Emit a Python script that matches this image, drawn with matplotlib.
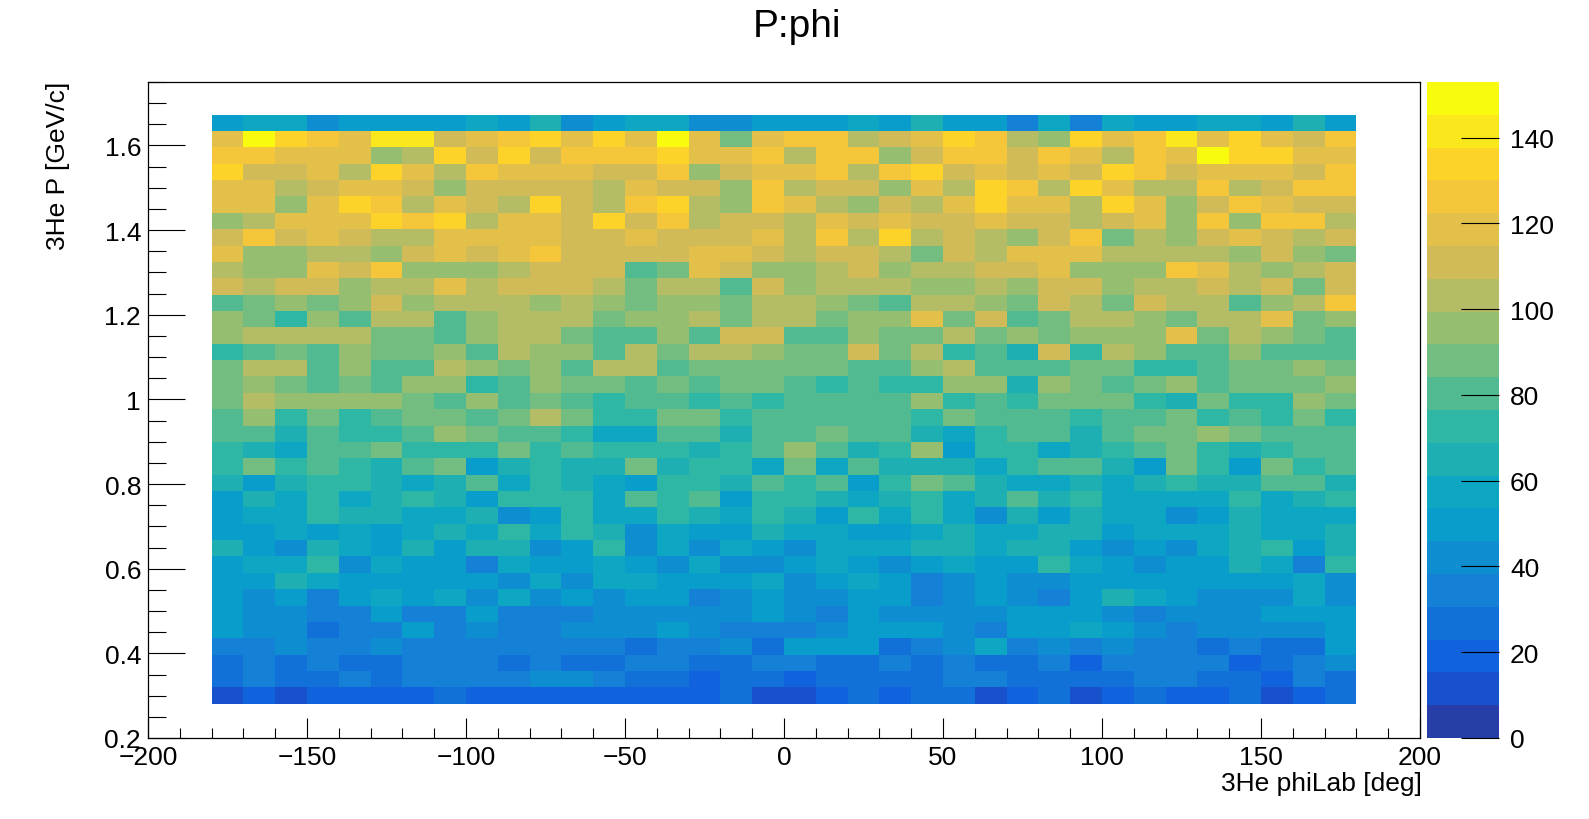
import numpy as np
import matplotlib
matplotlib.use('Agg')
import matplotlib.pyplot as plt
from matplotlib.colors import ListedColormap, BoundaryNorm, LinearSegmentedColormap

plt.rcParams['font.family'] = ['Liberation Sans', 'DejaVu Sans']

TITLE = 'P:phi'
X_TITLE = '3He phiLab [deg]'
Y_TITLE = '3He P [GeV/c]'

# binning of the histogram
PHI_LOW, PHI_HIGH, N_PHI = -180.0, 180.0, 36
P_LOW, P_HIGH, N_P = 0.281, 1.673, 36
Z_MAX = 153.0
N_CONTOURS = 20

x_ticks = [-200, -150, -100, -50, 0, 50, 100, 150, 200]
y_ticks = [0.2, 0.4, 0.6, 0.8, 1.0, 1.2, 1.4, 1.6]
z_ticks = [0, 20, 40, 60, 80, 100, 120, 140]

# counts per cell, one list per P bin, from the highest P bin down to the lowest,
# each list runs over phi from -180 to 180
counts = [
    [50, 57, 57, 42, 50, 50, 50, 50, 57, 50, 65, 42, 50, 57, 57, 42, 42, 50, 50, 50, 57, 50, 65, 50, 50, 34, 57, 34, 57, 50, 50, 57, 57, 50, 65, 50],
    [119, 150, 134, 126, 119, 142, 142, 111, 119, 126, 134, 119, 134, 119, 153, 119, 88, 119, 126, 126, 103, 111, 119, 134, 126, 103, 96, 134, 119, 126, 142, 119, 134, 119, 111, 126],
    [126, 126, 119, 119, 119, 96, 103, 134, 111, 134, 111, 126, 126, 126, 134, 119, 119, 126, 103, 126, 126, 96, 111, 126, 126, 111, 126, 119, 103, 126, 119, 151, 134, 134, 119, 119],
    [134, 111, 111, 119, 103, 134, 119, 103, 126, 119, 119, 119, 111, 111, 126, 96, 111, 119, 119, 126, 103, 126, 134, 111, 119, 111, 119, 111, 134, 126, 111, 119, 119, 119, 111, 126],
    [119, 119, 103, 111, 119, 119, 111, 96, 111, 111, 111, 111, 103, 119, 111, 111, 96, 126, 103, 111, 111, 96, 119, 103, 134, 126, 103, 134, 119, 103, 103, 126, 103, 111, 126, 126],
    [119, 119, 96, 119, 134, 126, 103, 119, 111, 103, 134, 111, 103, 126, 134, 103, 96, 126, 119, 103, 96, 111, 103, 119, 134, 119, 119, 103, 134, 119, 96, 111, 126, 119, 111, 111],
    [96, 103, 119, 119, 119, 134, 126, 134, 103, 119, 119, 111, 134, 111, 126, 103, 111, 111, 103, 119, 111, 119, 111, 111, 119, 111, 111, 103, 111, 119, 96, 126, 96, 126, 126, 103],
    [111, 126, 111, 119, 111, 103, 103, 119, 119, 119, 119, 111, 111, 119, 111, 111, 111, 119, 103, 126, 103, 134, 103, 111, 103, 96, 111, 126, 88, 103, 96, 111, 119, 111, 103, 111],
    [119, 96, 96, 103, 103, 96, 111, 119, 111, 119, 126, 111, 111, 111, 111, 119, 119, 111, 103, 111, 111, 103, 88, 111, 103, 119, 119, 119, 103, 103, 103, 103, 96, 111, 96, 88],
    [103, 96, 96, 119, 111, 126, 96, 96, 96, 103, 111, 111, 111, 80, 88, 119, 111, 96, 96, 103, 111, 96, 103, 103, 111, 111, 119, 96, 96, 96, 126, 119, 103, 96, 103, 111],
    [111, 103, 111, 111, 96, 103, 103, 119, 103, 111, 111, 111, 103, 88, 103, 103, 80, 111, 96, 103, 103, 103, 96, 96, 103, 96, 111, 111, 96, 103, 103, 111, 103, 111, 88, 111],
    [80, 88, 96, 88, 96, 111, 96, 103, 103, 103, 96, 103, 96, 88, 96, 96, 88, 103, 103, 96, 88, 80, 103, 103, 96, 88, 111, 103, 88, 111, 103, 103, 80, 96, 103, 126],
    [96, 88, 73, 96, 80, 103, 103, 80, 96, 103, 103, 103, 88, 96, 96, 103, 88, 103, 103, 88, 96, 96, 119, 88, 111, 80, 88, 103, 103, 96, 88, 103, 103, 119, 88, 96],
    [96, 103, 103, 103, 103, 88, 88, 80, 96, 103, 103, 88, 80, 80, 96, 80, 111, 111, 80, 80, 96, 88, 88, 103, 88, 96, 88, 96, 96, 96, 119, 88, 103, 96, 88, 80],
    [73, 80, 88, 80, 96, 88, 88, 96, 80, 103, 96, 96, 80, 103, 88, 103, 103, 96, 88, 88, 111, 88, 103, 73, 80, 65, 111, 73, 103, 96, 80, 80, 96, 80, 80, 80],
    [88, 103, 103, 80, 96, 80, 80, 103, 96, 88, 96, 80, 103, 103, 80, 88, 88, 88, 88, 88, 80, 80, 96, 103, 80, 80, 80, 88, 88, 73, 73, 80, 88, 88, 96, 88],
    [88, 96, 88, 80, 88, 80, 96, 96, 73, 80, 96, 88, 88, 80, 88, 80, 88, 88, 80, 73, 80, 73, 73, 96, 96, 65, 96, 88, 80, 88, 96, 80, 88, 88, 88, 96],
    [88, 103, 96, 96, 96, 96, 88, 80, 96, 80, 88, 80, 73, 80, 80, 73, 80, 73, 80, 80, 80, 80, 96, 73, 80, 73, 88, 88, 88, 73, 65, 88, 73, 73, 96, 88],
    [80, 96, 73, 88, 73, 80, 88, 88, 80, 88, 103, 88, 73, 73, 88, 88, 73, 80, 80, 80, 80, 80, 73, 88, 80, 80, 80, 73, 80, 80, 88, 73, 80, 73, 88, 73],
    [80, 80, 65, 80, 73, 73, 80, 96, 88, 80, 80, 73, 57, 57, 80, 80, 65, 80, 80, 88, 80, 80, 65, 57, 73, 80, 80, 65, 80, 88, 88, 96, 88, 80, 80, 80],
    [73, 65, 57, 80, 80, 88, 73, 73, 73, 88, 73, 80, 73, 73, 73, 65, 73, 80, 96, 80, 65, 73, 96, 50, 73, 73, 57, 65, 73, 80, 88, 73, 65, 73, 80, 80],
    [73, 88, 73, 80, 73, 65, 80, 88, 50, 65, 73, 65, 65, 88, 65, 73, 73, 57, 88, 57, 80, 65, 65, 65, 57, 73, 80, 80, 65, 50, 88, 73, 50, 88, 73, 80],
    [65, 50, 65, 73, 73, 65, 57, 65, 80, 57, 73, 65, 57, 50, 73, 73, 65, 80, 73, 80, 50, 73, 88, 80, 65, 57, 57, 65, 57, 65, 73, 65, 65, 80, 80, 65],
    [50, 65, 57, 73, 57, 65, 73, 65, 50, 73, 73, 73, 57, 80, 73, 80, 50, 73, 73, 65, 57, 65, 73, 57, 65, 80, 65, 73, 57, 57, 57, 57, 73, 57, 65, 73],
    [50, 57, 57, 73, 65, 65, 57, 57, 65, 42, 50, 73, 57, 57, 73, 65, 57, 73, 65, 50, 73, 57, 73, 57, 42, 65, 50, 65, 57, 57, 42, 50, 65, 57, 57, 57],
    [50, 50, 57, 50, 57, 50, 57, 65, 57, 73, 57, 73, 65, 42, 57, 50, 50, 65, 57, 57, 50, 50, 57, 65, 57, 57, 65, 65, 50, 57, 57, 57, 65, 57, 57, 65],
    [65, 50, 42, 65, 57, 50, 65, 50, 65, 65, 42, 50, 73, 42, 57, 42, 57, 50, 42, 57, 57, 57, 65, 65, 57, 65, 65, 50, 42, 50, 42, 57, 65, 73, 50, 65],
    [50, 57, 57, 73, 42, 57, 50, 50, 34, 57, 50, 50, 57, 50, 42, 57, 42, 42, 50, 57, 50, 42, 50, 57, 50, 50, 73, 57, 50, 42, 50, 50, 65, 57, 34, 73],
    [50, 50, 65, 57, 50, 50, 50, 50, 50, 42, 57, 42, 57, 57, 50, 50, 50, 57, 42, 50, 57, 50, 34, 42, 50, 42, 42, 50, 50, 50, 50, 50, 50, 50, 57, 42],
    [50, 42, 50, 34, 50, 57, 50, 57, 42, 57, 42, 50, 42, 50, 50, 34, 42, 50, 42, 42, 50, 50, 34, 42, 50, 42, 34, 50, 65, 57, 50, 42, 42, 42, 57, 42],
    [50, 42, 42, 34, 34, 50, 34, 34, 50, 34, 34, 34, 42, 42, 42, 42, 42, 50, 42, 34, 50, 42, 42, 42, 42, 50, 50, 50, 42, 34, 42, 42, 42, 50, 50, 50],
    [50, 42, 42, 27, 34, 34, 50, 34, 42, 34, 34, 42, 42, 42, 50, 42, 34, 34, 34, 42, 50, 50, 50, 42, 34, 50, 50, 57, 50, 42, 34, 42, 42, 42, 42, 50],
    [34, 34, 42, 34, 34, 42, 34, 34, 34, 34, 34, 34, 34, 27, 34, 34, 42, 27, 50, 50, 50, 27, 34, 42, 57, 34, 42, 34, 42, 34, 34, 27, 34, 27, 27, 50],
    [27, 34, 27, 34, 27, 27, 34, 34, 34, 27, 34, 27, 27, 34, 34, 27, 27, 34, 34, 27, 27, 34, 27, 34, 27, 27, 34, 19, 34, 34, 34, 34, 19, 27, 34, 42],
    [27, 34, 27, 27, 34, 27, 34, 34, 34, 34, 42, 42, 34, 27, 27, 19, 27, 27, 19, 27, 27, 27, 27, 34, 34, 27, 27, 27, 27, 34, 34, 27, 27, 19, 34, 27],
    [11, 19, 11, 19, 19, 19, 19, 27, 19, 19, 19, 19, 19, 19, 19, 19, 27, 11, 11, 19, 27, 19, 27, 27, 11, 19, 27, 11, 19, 27, 19, 19, 27, 11, 19, 27],
]

# ROOT kBird palette
bird_stops = [0.0, 0.125, 0.25, 0.375, 0.5, 0.625, 0.75, 0.875, 1.0]
bird_red = [0.2082, 0.0592, 0.0780, 0.0232, 0.1802, 0.5301, 0.8186, 0.9956, 0.9764]
bird_green = [0.1664, 0.3599, 0.5041, 0.6419, 0.7178, 0.7492, 0.7328, 0.7862, 0.9832]
bird_blue = [0.5293, 0.8684, 0.8385, 0.7914, 0.6425, 0.4662, 0.3499, 0.1968, 0.0539]

bird = LinearSegmentedColormap.from_list(
    'bird', list(zip(bird_stops, zip(bird_red, bird_green, bird_blue))), N=255)
# ROOT picks the palette colour of each contour band like this
band_colors = [bird((k + 0.99) / N_CONTOURS) for k in range(N_CONTOURS)]
cmap = ListedColormap(band_colors)
levels = np.linspace(0, Z_MAX, N_CONTOURS + 1)
norm = BoundaryNorm(levels, N_CONTOURS)

phi_edges = np.linspace(PHI_LOW, PHI_HIGH, N_PHI + 1)
p_edges = np.linspace(P_LOW, P_HIGH, N_P + 1)
z = np.array(counts, dtype=float)[::-1]

W, H = 1589, 820
fig = plt.figure(figsize=(W / 100, H / 100), dpi=100)
ax = fig.add_axes([148 / W, 1 - 739 / H, (1420 - 148) / W, (739 - 83) / H])
cax = fig.add_axes([1427 / W, 1 - 739 / H, (1499 - 1427) / W, (739 - 83) / H])

mesh = ax.pcolormesh(phi_edges, p_edges, z, cmap=cmap, norm=norm)
ax.set_xlim(-200, 200)
ax.set_ylim(0.2, 1.75)

ax.set_xticks(x_ticks)
ax.set_xticklabels([f'{v:g}'.replace('-', '\u2212') for v in x_ticks])
ax.set_xticks(np.arange(-200, 201, 10), minor=True)
ax.set_yticks(y_ticks)
ax.set_yticklabels([f'{v:g}' for v in y_ticks])
ax.set_yticks(np.arange(0.2, 1.751, 0.05), minor=True)

ax.tick_params(axis='both', which='both', direction='in', top=False, right=False,
               width=0.8, labelsize=19)
ax.tick_params(axis='x', which='major', length=14.2, pad=5)
ax.tick_params(axis='x', which='minor', length=7.1)
ax.tick_params(axis='y', which='major', length=26.6, pad=5)
ax.tick_params(axis='y', which='minor', length=13.3)
for sp in ax.spines.values():
    sp.set_linewidth(0.9)

cb = fig.colorbar(mesh, cax=cax, ticks=z_ticks)
cb.outline.set_visible(False)
cb.ax.set_ylim(0, Z_MAX)
cb.ax.tick_params(direction='in', length=27.4, width=0.8, labelsize=19, pad=8)
cb.ax.minorticks_off()
cb.ax.set_yticklabels([f'{v:g}' for v in z_ticks])

fig.text(797 / W, 1 - 27 / H, TITLE, ha='center', va='center', fontsize=28)
fig.text(1422 / W, 1 - 784 / H, X_TITLE, ha='right', va='center', fontsize=19)
fig.text(58 / W, 1 - 82 / H, Y_TITLE, ha='center', va='top', rotation=90, fontsize=19)

fig.savefig('out.png', dpi=100)
